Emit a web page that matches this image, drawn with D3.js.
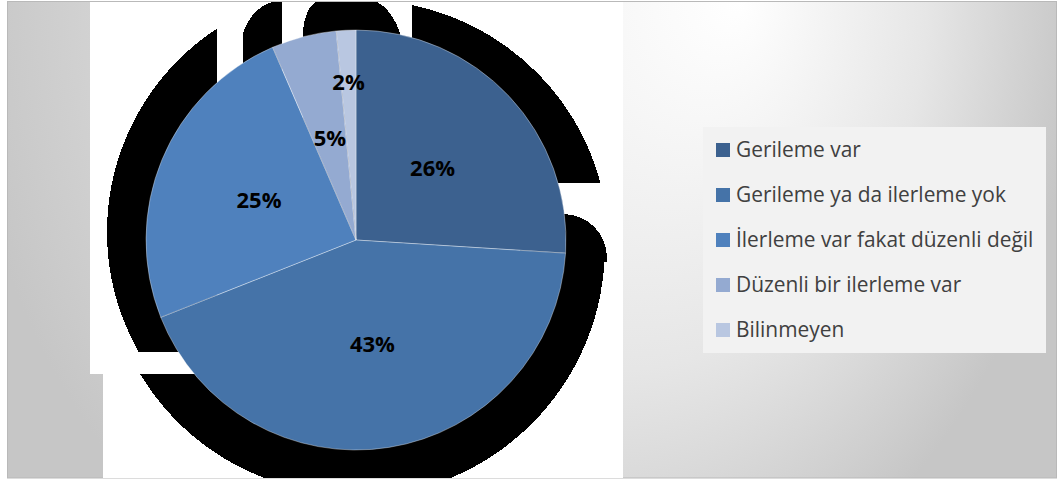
<!DOCTYPE html>
<html>
<head>
<meta charset="utf-8">
<script src="https://cdn.jsdelivr.net/npm/d3@7"></script>
<style>
  html, body { margin: 0; padding: 0; background: #ffffff; }
  svg { display: block; }
</style>
</head>
<body>
<div id="chart"></div>
<script>
// ---- data ----
const categories = [
  "Gerileme var",
  "Gerileme ya da ilerleme yok",
  "İlerleme var fakat düzenli değil",
  "Düzenli bir ilerleme var",
  "Bilinmeyen"
];
const values = [26, 43, 24.5, 5, 1.5];
const colors = ["#3c618f", "#4573a8", "#4f81bd", "#94aad1", "#b9c7e1"];

// ---- layout ----
const W = 1057, H = 479;
const cx = 356, cy = 240, R = 210;

const svg = d3.select("#chart").append("svg")
  .attr("width", W).attr("height", H);

const defs = svg.append("defs");
const grad = defs.append("radialGradient")
  .attr("id", "bg").attr("gradientUnits", "userSpaceOnUse")
  .attr("cx", 520).attr("cy", 0).attr("r", 560)
  .attr("fx", 740).attr("fy", 0)
  .attr("gradientTransform", "scale(1,1.2)");
[[0, "#ffffff"], [0.55, "#e6e6e6"], [0.8, "#d4d4d4"], [1, "#c6c6c6"]].forEach(([o, c]) =>
  grad.append("stop").attr("offset", o).attr("stop-color", c));

// chart area background
svg.append("rect")
  .attr("x", 7.5).attr("y", 1.5).attr("width", W - 8).attr("height", H - 2.5)
  .attr("fill", "url(#bg)").attr("stroke", "#b9b9b9").attr("stroke-width", 1);

// white plot-area pieces
svg.append("rect").attr("x", 90).attr("y", 2).attr("width", 533).attr("height", 372).attr("fill", "#ffffff");
svg.append("rect").attr("x", 103).attr("y", 374).attr("width", 520).attr("height", 104).attr("fill", "#ffffff");

// ---- shadow artifact (black pieces) ----
function clipRect(id, x0, y0, x1, y1) {
  defs.append("clipPath").attr("id", id).append("rect")
    .attr("x", x0).attr("y", y0).attr("width", x1 - x0).attr("height", y1 - y0);
  return "url(#" + id + ")";
}
const sh = svg.append("g").attr("fill", "#000000").attr("shape-rendering", "crispEdges");
sh.append("circle").attr("cx", 350).attr("cy", 232).attr("r", 243)
  .attr("clip-path", clipRect("cA", 90, 2, 217, 352));
sh.append("path").attr("d", "M243,240 L243,33 Q252,8 272,2 L282,2 L282,240 Z");
sh.append("path").attr("d", "M303,240 L303,32 Q305,8 316,2 L377,2 Q392,10 400,33 L402,240 Z");
sh.append("circle").attr("cx", 362).attr("cy", 247).attr("r", 247)
  .attr("clip-path", clipRect("cD", 412, 2, 630, 183));
sh.append("circle").attr("cx", 563).attr("cy", 258).attr("r", 44)
  .attr("clip-path", clipRect("cE1", 356, 213, 630, 262));
sh.append("circle").attr("cx", 355).attr("cy", 247).attr("r", 250)
  .attr("clip-path", clipRect("cE2", 356, 257, 630, 478));
sh.append("circle").attr("cx", 352).attr("cy", 247).attr("r", 247)
  .attr("clip-path", clipRect("cF", 103, 374, 357, 478));

// ---- pie ----
const pie = d3.pie().sort(null).value(d => d)(values);
const arc = d3.arc().innerRadius(0).outerRadius(R);
const g = svg.append("g").attr("transform", `translate(${cx},${cy})`);
g.selectAll("path.slice").data(pie).join("path")
  .attr("class", "slice")
  .attr("d", arc)
  .attr("fill", (d, i) => colors[i])
  .attr("stroke", "#ffffff").attr("stroke-opacity", 0.45).attr("stroke-width", 0.8);

const labelR = [105, 105, 105, 105, 158];
g.selectAll("text.lbl").data(pie).join("text")
  .attr("class", "lbl")
  .attr("transform", (d, i) => {
    const c = d3.arc().innerRadius(0).outerRadius(labelR[i] * 2).centroid(d);
    return `translate(${c[0]},${c[1]})`;
  })
  .attr("text-anchor", "middle").attr("dy", "0.36em")
  .attr("font-family", "'Open Sans', sans-serif").attr("font-weight", "bold")
  .attr("font-size", 22).attr("fill", "#000000")
  .text(d => Math.round(d.data) + "%");

// ---- legend ----
svg.append("rect").attr("x", 703).attr("y", 127).attr("width", 343).attr("height", 226).attr("fill", "#f2f2f2");
const leg = svg.append("g");
const rowY = d3.scalePoint().domain(categories).range([150, 330]);
const items = leg.selectAll("g").data(categories).join("g")
  .attr("transform", d => `translate(716,${rowY(d)})`);
items.append("rect").attr("x", 0).attr("y", -7).attr("width", 14).attr("height", 14)
  .attr("fill", (d, i) => colors[i]);
items.append("text").attr("x", 20).attr("dy", "0.35em")
  .attr("font-family", "'Open Sans', sans-serif").attr("font-size", 20.9)
  .attr("fill", "#404040").text(d => d);
</script>
</body>
</html>
